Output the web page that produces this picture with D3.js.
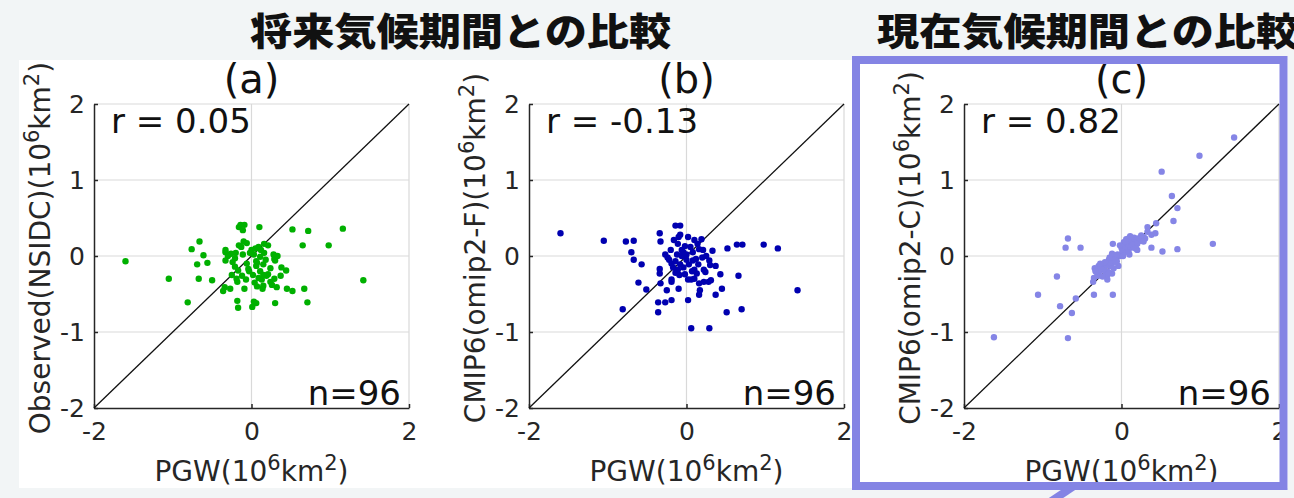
<!DOCTYPE html>
<html>
<head>
<meta charset="utf-8">
<script src="https://cdn.jsdelivr.net/npm/d3@7"></script>
<style>
  body { margin: 0; background: #f2f5f6; }
  svg { display: block; }
</style>
</head>
<body>
<div id="chart"></div>
<script>
// ---- data (10^6 km^2), x = PGW, y = comparison ----
const obsNsidc = [
  [-1.60,-0.07],[-1.05,-0.30],[-0.81,-0.61],[-0.76,0.09],[-0.66,0.19],[-0.61,0.01],[-0.69,-0.11],[-0.56,-0.09],[-0.67,-0.30],[-0.50,-0.32],
  [-0.33,0.08],[-0.33,0.05],[-0.33,-0.06],[-0.26,0.03],[-0.20,0.04],[-0.21,-0.03],[-0.16,0.38],[-0.14,0.41],[-0.09,0.41],[-0.11,0.34],
  [-0.10,0.19],[-0.06,0.17],[-0.16,0.14],[-0.11,0.02],[0.00,0.08],[0.03,0.02],[0.10,0.38],[0.16,0.16],[0.21,0.14],[0.16,0.04],
  [0.11,-0.01],[0.07,-0.09],[0.15,-0.11],[0.28,0.02],[0.33,0.00],[0.29,-0.04],[0.38,-0.15],[0.44,-0.19],[0.52,0.35],[0.72,0.33],
  [0.65,0.14],[0.98,0.14],[1.16,0.36],[1.42,-0.32],[0.67,-0.43],[0.71,-0.61],[0.52,-0.46],[0.45,-0.43],[0.32,-0.41],[0.30,-0.62],
  [0.24,-0.34],[0.29,-0.30],[0.21,-0.24],[0.13,-0.31],[0.14,-0.43],[0.15,-0.39],[0.07,-0.40],[0.09,-0.29],[0.11,-0.20],[0.15,-0.25],
  [0.03,-0.60],[0.01,-0.67],[0.06,-0.62],[-0.03,-0.20],[-0.07,-0.31],[-0.09,-0.43],[-0.18,-0.59],[-0.17,-0.68],[-0.18,-0.34],[-0.19,-0.30],
  [-0.25,-0.25],[-0.17,-0.19],[-0.27,-0.43],[-0.34,-0.41],[-0.36,-0.46],[-0.02,0.04],[0.06,-0.07],[-0.04,-0.17],[0.19,-0.26],[0.06,-0.13],
  [0.37,-0.26],[0.30,-0.06],[0.12,0.08],[0.05,0.10],[-0.13,0.12],[-0.24,-0.08],[-0.30,0.00],[0.24,-0.16],[0.02,-0.25],[-0.12,-0.26],
  [0.18,-0.05],[0.09,0.12],[-0.06,-0.10],[0.26,-0.38],[-0.21,-0.14],[0.04,-0.35]
];
const omip2F = [
  [-1.60,0.30],[-1.05,0.20],[-0.77,0.19],[-0.67,0.20],[-0.70,0.05],[-0.67,-0.05],[-0.57,-0.11],[-0.61,-0.35],[-0.51,-0.44],[-0.81,-0.70],
  [-0.34,0.30],[-0.33,0.19],[-0.34,-0.17],[-0.34,-0.23],[-0.33,-0.36],[-0.36,-0.61],[-0.27,-0.61],[-0.36,-0.74],[-0.25,-0.45],[-0.19,-0.58],
  [-0.19,-0.34],[-0.19,-0.31],[-0.10,-0.43],[-0.14,0.40],[-0.08,0.40],[-0.10,0.25],[-0.16,0.21],[-0.11,0.16],[-0.20,0.08],[-0.27,0.02],
  [-0.22,-0.05],[-0.19,-0.10],[-0.14,-0.07],[-0.09,-0.25],[-0.06,0.08],[0.02,0.25],[0.10,0.21],[0.19,0.22],[0.00,0.02],[-0.04,-0.15],
  [0.03,-0.11],[0.07,-0.20],[0.02,-0.31],[0.06,-0.31],[0.02,-0.58],[0.06,-0.95],[0.29,-0.95],[0.16,-0.36],[0.22,-0.34],[0.28,-0.34],
  [0.31,-0.32],[0.16,-0.51],[0.17,-0.45],[0.37,-0.51],[0.45,-0.43],[0.51,-0.74],[0.70,-0.70],[0.66,-0.26],[1.41,-0.45],[0.43,-0.24],
  [0.37,-0.13],[0.29,-0.06],[0.24,-0.21],[0.33,0.07],[0.16,0.09],[0.21,0.08],[0.52,0.10],[0.64,0.15],[0.71,0.15],[0.98,0.15],
  [1.16,0.10],[0.12,-0.04],[0.15,-0.11],[0.10,-0.18],[0.13,-0.23],[-0.08,-0.11],[-0.11,-0.18],[-0.06,0.00],
  [-0.04,0.05],[0.08,-0.06],[-0.12,0.02],[0.05,0.12],[-0.17,-0.15],[0.20,-0.02],[0.25,0.00],[-0.02,-0.24],[0.10,-0.30],[-0.24,-0.02],
  [0.14,0.16],[-0.08,0.28],[0.00,-0.05],[0.22,-0.18],[-0.14,-0.22],[0.30,-0.12],[-0.02,0.13],[0.08,0.05]
];
const omip2C = [
  [-1.62,-1.07],[-1.06,-0.51],[-0.82,-0.27],[-0.78,-0.66],[-0.63,-0.75],[-0.68,-1.08],[-0.58,-0.56],[-0.68,0.23],[-0.71,0.11],[-0.52,0.11],
  [-0.35,-0.51],[-0.11,-0.51],[-0.11,0.16],[-0.36,-0.34],[-0.35,-0.29],[-0.34,-0.16],[-0.29,-0.13],[-0.25,-0.18],[-0.18,-0.31],[-0.20,-0.21],
  [-0.15,-0.13],[-0.12,-0.23],[-0.16,-0.05],[-0.09,-0.02],[-0.04,-0.13],[-0.02,0.00],[0.00,0.11],[0.03,0.18],[0.09,0.23],[0.14,0.20],
  [0.19,0.21],[0.10,0.14],[0.20,0.08],[0.10,0.02],[0.28,0.25],[0.33,0.38],[0.38,0.28],[0.43,0.30],[0.44,0.43],[0.38,0.11],
  [0.52,0.06],[0.71,0.09],[0.66,0.46],[0.71,0.63],[0.64,0.79],[0.51,1.11],[0.99,1.32],[1.43,1.56],[1.16,0.16],[0.30,0.23],
  [0.24,0.20],[0.06,0.09],[0.02,0.04],[-0.06,-0.07],[-0.12,-0.09],[-0.23,-0.12],[-0.31,-0.22],[-0.17,-0.21],[0.18,0.14],[0.12,0.11],
  [-0.28,-0.20],[-0.26,-0.15],[-0.22,-0.17],[-0.19,-0.12],[-0.14,-0.09],[-0.08,-0.04],[-0.05,0.02],[0.01,0.07],[0.04,0.13],[0.07,0.17],
  [0.12,0.19],[0.16,0.24],[0.21,0.23],[0.25,0.27],[0.06,0.22],[0.11,0.26],[0.16,0.18],[-0.02,0.14],[-0.18,-0.25],[-0.30,-0.26],
  [-0.33,-0.20],[-0.21,-0.08],[-0.10,-0.16],[-0.07,-0.08],[0.02,0.00],[0.14,0.15],[0.20,0.16],[0.33,0.32],[-0.24,-0.27],[-0.15,-0.02],
  [0.09,0.05],[0.18,0.10],[0.28,0.19],[-0.12,0.03],[0.05,0.19],[-0.27,-0.10]
];

const panelTags = ['(a)', '(b)', '(c)'];
const yNames = ['Observed(NSIDC)', 'CMIP6(omip2-F)', 'CMIP6(omip2-C)'];
const rValues = ['0.05', '-0.13', '0.82'];
const nValues = [96, 96, 96];
const dotColors = ['#00b000', '#0000b0', '#8585e6'];
const titles = ['将来気候期間との比較', '現在気候期間との比較'];
const xTicks = [-2, 0, 2];
const yTicks = [-2, -1, 0, 1, 2];

const series = [obsNsidc, omip2F, omip2C];

// ---- layout ----
const W = 1294, H = 498;
const margin = { top: 104, left: 94 };
const pw = 315, ph = 304, gap = 435;
const font = 'DejaVu Sans, sans-serif';
const ink = '#262626';
const purple = '#8484e4';

const svg = d3.select('#chart').append('svg').attr('width', W).attr('height', H);
svg.append('rect').attr('width', W).attr('height', H).attr('fill', '#f2f5f6');
svg.append('rect').attr('x', 19).attr('y', 60).attr('width', 1269).attr('height', 428).attr('fill', '#fff');

// titles (glyphs a little wider than tall in the original)
[250, 877].forEach((tx, k) => {
  svg.append('text').attr('transform', `translate(${tx},45) scale(1.11,1)`)
    .style('font-family', 'Noto Sans CJK JP').style('font-weight', 900).style('font-size', '38px')
    .attr('fill', '#111').text(titles[k]);
});

// "(10^6km^2)" with superscripts
function unitLabel(sel, prefix) {
  sel.append('tspan').text(prefix + '(10');
  sel.append('tspan').attr('dy', -11).style('font-size', '0.75em').text('6');
  sel.append('tspan').attr('dy', 11).text('km');
  sel.append('tspan').attr('dy', -11).style('font-size', '0.75em').text('2');
  sel.append('tspan').attr('dy', 11).text(')');
}

series.forEach((data, i) => {
  const left = margin.left + i * gap, top = margin.top;
  const x = d3.scaleLinear().domain([-2, 2]).range([left, left + pw]);
  const y = d3.scaleLinear().domain([-2, 2]).range([top + ph, top]);
  const g = svg.append('g');

  // grid
  g.selectAll('.gx').data(xTicks.filter(d => d > -2)).enter().append('line')
    .attr('x1', d => x(d)).attr('x2', d => x(d)).attr('y1', y(-2)).attr('y2', y(2))
    .attr('stroke', '#d9d9d9').attr('stroke-width', 1.2);
  g.selectAll('.gy').data(yTicks.filter(d => d > -2)).enter().append('line')
    .attr('x1', x(-2)).attr('x2', x(2)).attr('y1', d => y(d)).attr('y2', d => y(d))
    .attr('stroke', '#d9d9d9').attr('stroke-width', 1.2);

  // axes
  const ax = g.append('g').attr('transform', `translate(0,${y(-2)})`)
    .call(d3.axisBottom(x).tickValues(xTicks).tickFormat(d => String(d)).tickSizeInner(-4).tickSizeOuter(0).tickPadding(14));
  const ay = g.append('g').attr('transform', `translate(${x(-2)},0)`)
    .call(d3.axisLeft(y).tickValues(yTicks).tickFormat(d => String(d)).tickSizeInner(-4).tickSizeOuter(0).tickPadding(9));
  [ax, ay].forEach(a => {
    a.selectAll('path,line').attr('stroke', ink).attr('stroke-width', 1.5);
    a.selectAll('text').attr('fill', ink).style('font-family', font).style('font-size', '25px');
  });

  // 1:1 line
  g.append('line').attr('x1', x(-2)).attr('y1', y(-2)).attr('x2', x(2)).attr('y2', y(2))
    .attr('stroke', '#111').attr('stroke-width', 1.3);

  // points
  g.selectAll('circle').data(data).enter().append('circle')
    .attr('cx', d => x(d[0])).attr('cy', d => y(d[1])).attr('r', 3.2)
    .attr('fill', dotColors[i]);

  // annotations
  g.append('text').attr('x', left + 17).attr('y', top + 29)
    .style('font-family', font).style('font-size', '34px').attr('fill', '#111')
    .text('r = ' + rValues[i]);
  g.append('text').attr('x', left + pw - 8).attr('y', top + ph - 3).attr('text-anchor', 'end')
    .style('font-family', font).style('font-size', '34px').attr('fill', '#111')
    .text('n=' + nValues[i]);
  g.append('text').attr('x', x(0)).attr('y', 93).attr('text-anchor', 'middle')
    .style('font-family', font).style('font-size', '40px').attr('fill', '#111')
    .text(panelTags[i]);

  // axis titles
  const xl = g.append('text').attr('x', x(0)).attr('y', 481).attr('text-anchor', 'middle')
    .style('font-family', font).style('font-size', '28px').attr('fill', ink);
  unitLabel(xl, 'PGW');
  const yl = g.append('text').attr('transform', `translate(${left - 44},${top + ph / 2 - 8}) rotate(-90)`)
    .attr('text-anchor', 'middle')
    .style('font-family', font).style('font-size', '28px').attr('fill', ink);
  unitLabel(yl, yNames[i]);
});

// highlight frame around panel (c)
svg.append('rect').attr('x', 856).attr('y', 60).attr('width', 427.5).attr('height', 426)
  .attr('fill', 'none').attr('stroke', purple).attr('stroke-width', 8);
svg.append('line').attr('x1', 1074).attr('y1', 486).attr('x2', 1050).attr('y2', 502)
  .attr('stroke', purple).attr('stroke-width', 8);
</script>
</body>
</html>
